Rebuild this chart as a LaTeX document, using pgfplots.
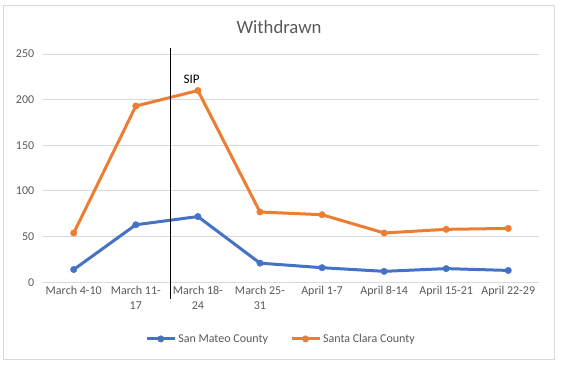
\documentclass[border=0pt]{standalone}
\usepackage{pgfplots}
\pgfplotsset{compat=1.18}
\usepackage{fontspec}
\setmainfont{Carlito}
\definecolor{txt}{HTML}{595959}
\definecolor{grd}{HTML}{D9D9D9}
\definecolor{sm}{HTML}{4472C4}
\definecolor{sc}{HTML}{ED7D31}
\begin{document}
\begin{tikzpicture}[x=1pt,y=1pt]
\useasboundingbox (0,0) rectangle (562,365);
\draw[grd, line width=1pt] (3.5,6) rectangle (554,359);
\node[txt, font=\fontsize{18.7}{22}\selectfont] at (279,338) {Withdrawn};
\begin{axis}[
  at={(42.7pt,82.7pt)}, anchor=south west,
  scale only axis, width=496.6pt, height=228.3pt,
  xmin=-0.5, xmax=7.5, ymin=0, ymax=250,
  ytick={0,50,...,250},
  xtick={0,...,7},
  xticklabels={March 4-10, {March 11-\\17}, {March 18-\\24}, {March 25-\\31}, April 1-7, April 8-14, April 15-21, April 22-29},
  xticklabel style={align=center, font=\fontsize{12}{15}\selectfont, text=txt},
  yticklabel style={font=\fontsize{12}{14}\selectfont, text=txt, xshift=-5pt},
  /pgf/number format/assume math mode=true,
  ymajorgrids, grid style={grd, line width=1pt},
  axis line style={draw=none},
  axis x line*=bottom, axis y line*=left,
  x axis line style={draw=grd, line width=1pt},
  tick style={draw=none},
  major tick length=0pt,
  clip=false,
  legend columns=2,
  legend style={at={(0.48,-0.248)}, anchor=center, draw=none, fill=none,
    font=\fontsize{12}{14}\selectfont, text=txt,
    /tikz/every even column/.append style={column sep=20pt}},
  legend image code/.code={
    \draw[#1, mark=none] (0pt,0pt) -- (28pt,0pt);
    \draw[#1, only marks] plot coordinates {(14pt,0pt)};
  },
]
\addplot[sm, line width=3pt, mark=*, mark size=3.2pt, mark options={solid, line width=0.5pt}]
  coordinates {(0,14) (1,63) (2,72) (3,21) (4,16) (5,12) (6,15) (7,13)};
\addlegendentry{San Mateo County}
\addplot[sc, line width=3pt, mark=*, mark size=3.2pt, mark options={solid, line width=0.5pt}]
  coordinates {(0,54) (1,193) (2,210) (3,77) (4,74) (5,54) (6,58) (7,59)};
\addlegendentry{Santa Clara County}
\addplot[black, line width=1pt, forget plot] coordinates {(1.555,-18) (1.555,257)};
\node[font=\fontsize{13}{15}\selectfont, black] at (axis cs:1.9,222) {SIP};
\end{axis}
\end{tikzpicture}
\end{document}
